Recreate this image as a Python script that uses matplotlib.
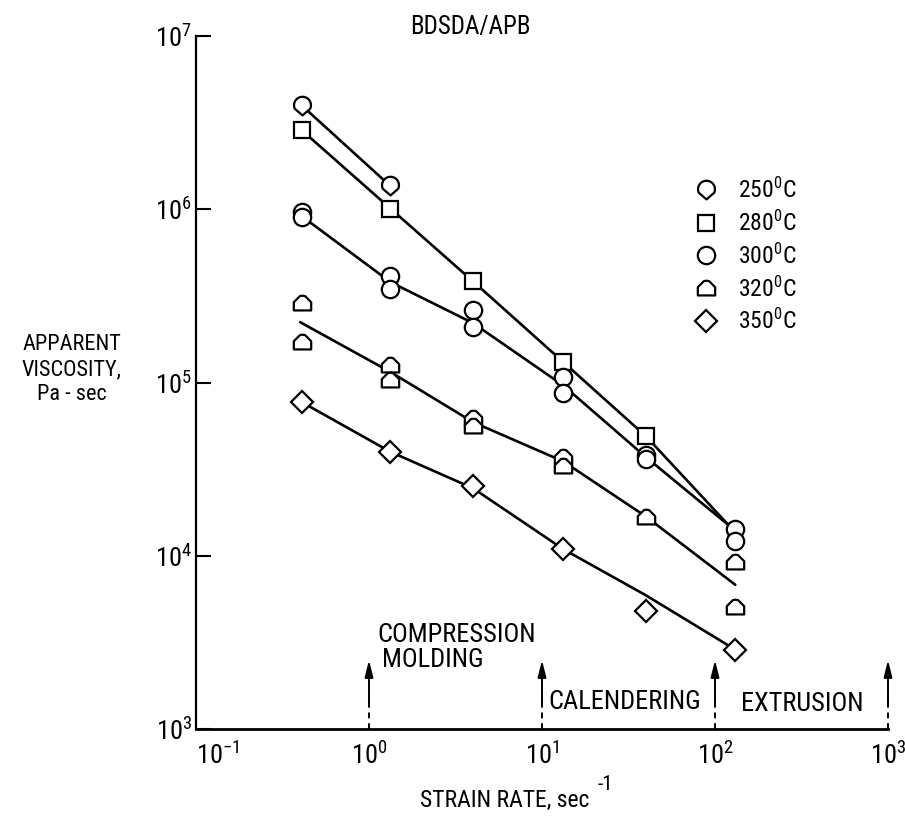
import numpy as np
import matplotlib
matplotlib.use('Agg')
import matplotlib.pyplot as plt
from matplotlib import font_manager
from matplotlib.path import Path

# strain rate columns (1/s)
strain = [0.41, 1.33, 4.0, 13.3, 40, 131]

x_250 = [0.41, 1.33]
y_250 = [3.96e6, 1.36e6]

x_280 = [0.41, 1.33, 4.0, 13.3, 40]
y_280 = [2.85e6, 1.01e6, 3.83e5, 1.31e5, 4.88e4]

x_300 = [0.41, 0.41, 1.33, 1.33, 4.0, 4.0, 13.3, 13.3, 40, 40, 131, 131]
y_300 = [9.68e5, 9.06e5, 4.11e5, 3.48e5, 2.61e5, 2.10e5,
         1.07e5, 8.65e4, 3.80e4, 3.64e4, 1.42e4, 1.21e4]

x_320 = [0.41, 0.41, 1.33, 1.33, 4.0, 4.0, 13.3, 13.3, 40, 131, 131]
y_320 = [2.89e5, 1.71e5, 1.26e5, 1.04e5, 6.25e4, 5.61e4,
         3.70e4, 3.31e4, 1.68e4, 9.26e3, 5.08e3]

x_350 = [0.41, 1.33, 4.0, 13.3, 40, 131]
y_350 = [7.69e4, 3.98e4, 2.52e4, 1.09e4, 4.82e3, 2.87e3]

# hand drawn curves through the data
fit_x_250 = [0.41, 1.33]
fit_y_250 = [3.96e6, 1.36e6]
fit_x_280 = [0.41, 1.33, 4.0, 13.3, 40, 120]
fit_y_280 = [2.85e6, 1.01e6, 3.83e5, 1.31e5, 4.88e4, 1.5e4]
fit_x_300 = [0.41, 1.33, 4.0, 13.3, 40, 120]
fit_y_300 = [9.1e5, 3.8e5, 2.2e5, 9.6e4, 3.7e4, 1.5e4]
fit_x_320 = [0.40, 1.33, 4.0, 13.3, 40, 131]
fit_y_320 = [2.23e5, 1.15e5, 5.9e4, 3.5e4, 1.68e4, 6.8e3]
fit_x_350 = [0.41, 1.33, 4.0, 13.3, 40, 131]
fit_y_350 = [7.69e4, 3.98e4, 2.45e4, 1.09e4, 5.9e3, 2.87e3]

temps = ['250', '280', '300', '320', '350']
arrow_x = [1, 10, 100, 1000]
x_ticks = [0.1, 1, 10, 100, 1000]
x_tick_labels = ['$\\mathregular{10^{-1}}$', '$\\mathregular{10^{0}}$', '$\\mathregular{10^{1}}$',
                 '$\\mathregular{10^{2}}$', '$\\mathregular{10^{3}}$']
y_ticks = [1e3, 1e4, 1e5, 1e6, 1e7]
y_tick_labels = ['$\\mathregular{10^{3}}$', '$\\mathregular{10^{4}}$', '$\\mathregular{10^{5}}$',
                 '$\\mathregular{10^{6}}$', '$\\mathregular{10^{7}}$']

# font: narrow sans if we have one
avail = {f.name for f in font_manager.fontManager.ttflist}
fam = 'DejaVu Sans'
for cand in ['Liberation Sans Narrow', 'Roboto Condensed', 'Open Sans Condensed', 'Liberation Sans']:
	if cand in avail:
		fam = cand
		break
plt.rcParams['font.family'] = [fam, 'DejaVu Sans']
plt.rcParams['mathtext.fontset'] = 'custom'
plt.rcParams['mathtext.rm'] = fam
plt.rcParams['mathtext.it'] = fam
plt.rcParams['mathtext.bf'] = fam

# marker shapes
th = np.linspace(np.radians(-25), np.radians(205), 30)
drop_verts = [(np.cos(t), np.sin(t) + 0.15) for t in th] + [(0, -1.05), (np.cos(th[0]), np.sin(th[0]) + 0.15)]
drop = Path(drop_verts, closed=True)
house = Path([(-1, -0.8), (1, -0.8), (1, 0.15), (0.3, 0.85), (0, 0.9), (-0.3, 0.85), (-1, 0.15), (-1, -0.8)],
             closed=True)

markers = {'250': (drop, 14), '280': ('s', 11.5), '300': ('o', 12.5), '320': (house, 12.5), '350': ('D', 11)}

fig = plt.figure(figsize=(9.05, 8.19), dpi=100)
ax = fig.add_axes([196 / 905, 90 / 819, 692 / 905, 693 / 819])
ax.set_xscale('log')
ax.set_yscale('log')
ax.set_xlim(0.1, 1000)
ax.set_ylim(1e3, 1e7)

line_kw = dict(color='black', lw=1.9, solid_capstyle='round', zorder=2)
ax.plot(fit_x_250, fit_y_250, **line_kw)
ax.plot(fit_x_280, fit_y_280, **line_kw)
ax.plot(fit_x_300, fit_y_300, **line_kw)
ax.plot(fit_x_320, fit_y_320, **line_kw)
ax.plot(fit_x_350, fit_y_350, **line_kw)

series = {'250': (x_250, y_250), '280': (x_280, y_280), '300': (x_300, y_300),
          '320': (x_320, y_320), '350': (x_350, y_350)}
handles = []
for t in temps:
	m, ms = markers[t]
	xs, ys = series[t]
	h, = ax.plot(xs, ys, ls='none', marker=m, ms=ms, mfc='white', mec='black', mew=1.6, zorder=3,
	             label=t + '$^{\\mathregular{0}}$C')
	handles.append(h)

leg = ax.legend(handles=handles, loc='upper left', bbox_to_anchor=(694 / 905, 1 - 178 / 819),
                bbox_transform=fig.transFigure, frameon=False, fontsize=17, handlelength=1.0,
                handletextpad=0.85, labelspacing=0.32, borderpad=0, borderaxespad=0)

# process ranges: arrows from the strain rate axis
for xa in arrow_x:
	ax.plot([xa, xa], [1e3, 1.45e3], color='black', lw=1.4, ls=(0, (3, 2.5)), zorder=2, clip_on=False)
	ax.annotate('', xy=(xa, 2.5e3), xytext=(xa, 1.42e3),
	            arrowprops=dict(arrowstyle='-|>,head_length=1.0,head_width=0.25', lw=1.4, color='black',
	                            shrinkA=0, shrinkB=0), annotation_clip=False)

txt_kw = dict(transform=ax.transAxes, ha='center', va='center', fontsize=19)
ax.text(0.376, 0.1356, 'COMPRESSION', **txt_kw)
ax.text(0.3425, 0.0996, 'MOLDING', **txt_kw)
ax.text(0.620, 0.039, 'CALENDERING', **txt_kw)
ax.text(0.876, 0.036, 'EXTRUSION', **txt_kw)

for s in ['top', 'right']:
	ax.spines[s].set_visible(False)
ax.spines['left'].set_linewidth(1.6)
ax.spines['bottom'].set_linewidth(2.0)

ax.set_xticks(x_ticks)
ax.set_xticklabels(x_tick_labels)
ax.set_yticks(y_ticks)
ax.set_yticklabels(y_tick_labels)
ax.xaxis.set_minor_locator(matplotlib.ticker.NullLocator())
ax.yaxis.set_minor_locator(matplotlib.ticker.NullLocator())
ax.tick_params(axis='x', length=0, pad=9, labelsize=19)
ax.tick_params(axis='y', direction='in', length=11, width=1.5, pad=3, labelsize=19)
ax.get_xticklabels()[0].set_horizontalalignment('left')

fig.text(72 / 905, 1 - 370 / 819, 'APPARENT\nVISCOSITY,\nPa - sec', ha='center', va='center',
         fontsize=16, linespacing=1.25)
fig.text(470 / 905, 1 - 27 / 819, 'BDSDA/APB', ha='center', va='center', fontsize=18)
fig.text(420 / 905, 1 - 800 / 819, 'STRAIN RATE, sec', ha='left', va='center', fontsize=17)
fig.text(597 / 905, 1 - 785 / 819, '-1', ha='left', va='center', fontsize=15)

fig.savefig('out.png', dpi=100)
